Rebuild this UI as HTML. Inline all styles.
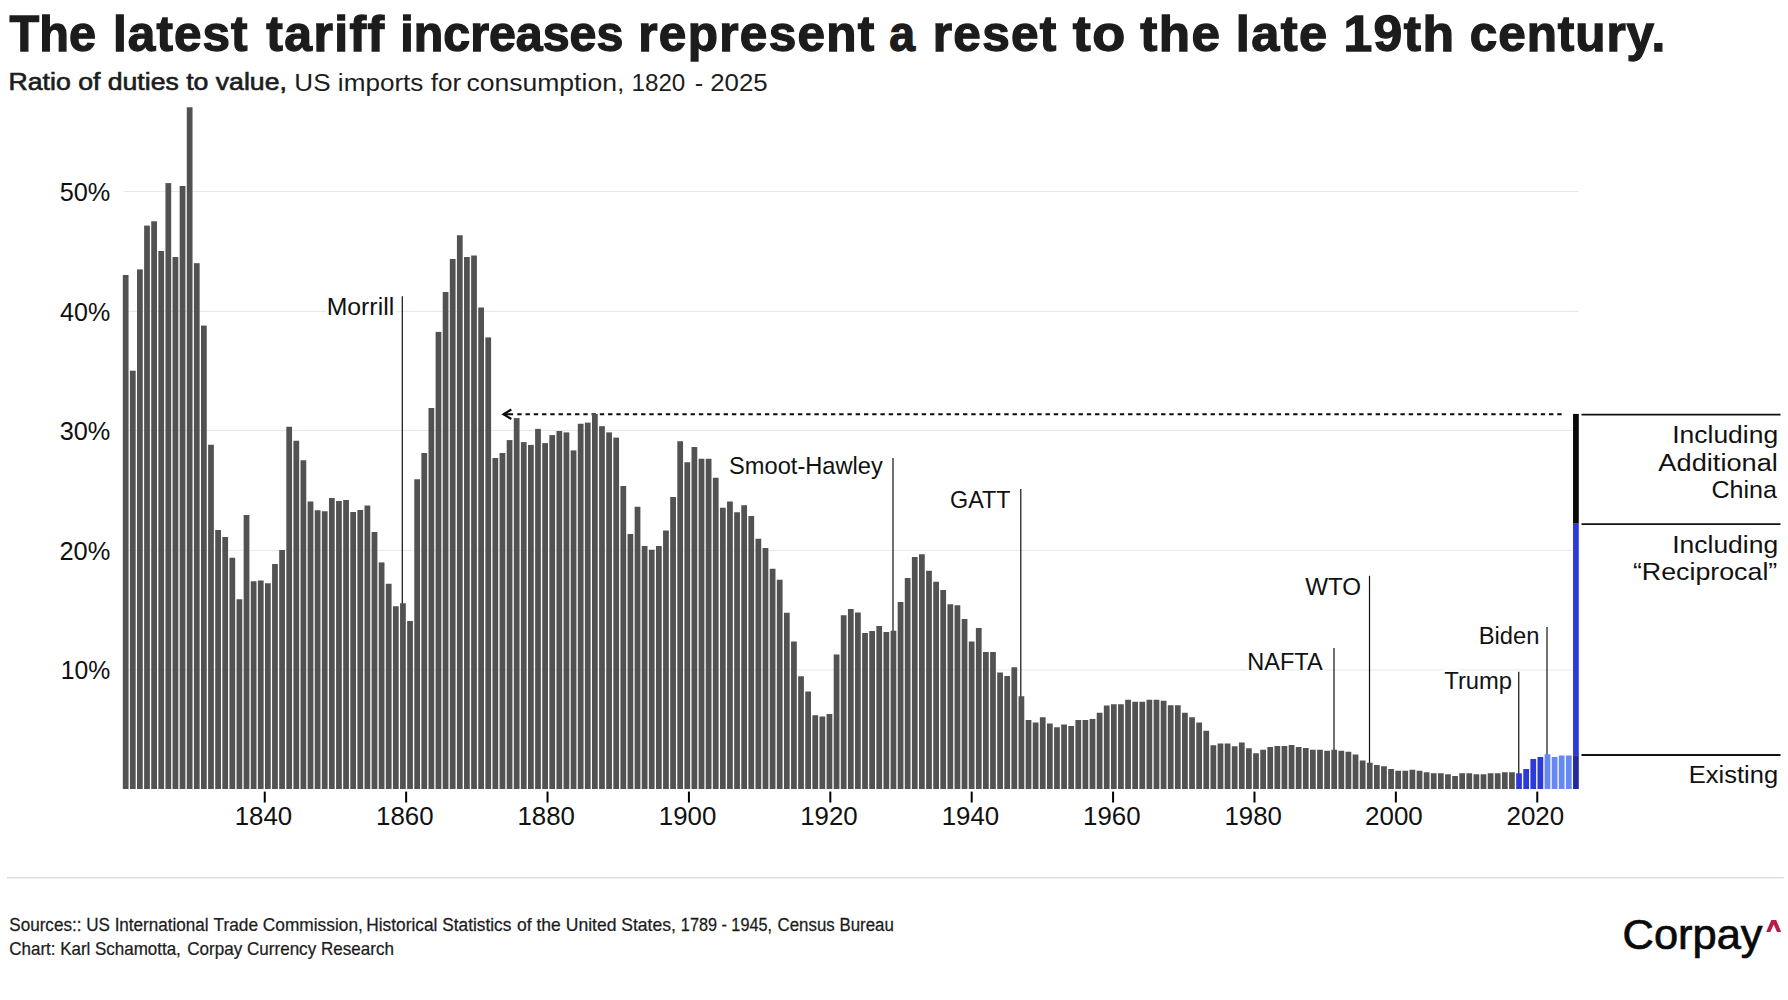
<!DOCTYPE html>
<html lang="en"><head><meta charset="utf-8"><title>The latest tariff increases represent a reset to the late 19th century.</title>
<style>html,body{margin:0;padding:0;background:#fff;}svg{display:block;}</style></head>
<body>
<svg width="1788" height="1000" viewBox="0 0 1788 1000" font-family="'Liberation Sans', sans-serif">
<rect width="1788" height="1000" fill="#ffffff"/>
<line x1="123.5" x2="1578.5" y1="191.55" y2="191.55" stroke="#e4e8ee" stroke-width="1"/>
<line x1="123.5" x2="1578.5" y1="311.4" y2="311.4" stroke="#e4e8ee" stroke-width="1"/>
<line x1="123.5" x2="1578.5" y1="430.5" y2="430.5" stroke="#e4e8ee" stroke-width="1"/>
<line x1="123.5" x2="1578.5" y1="550.35" y2="550.35" stroke="#e4e8ee" stroke-width="1"/>
<line x1="123.5" x2="1578.5" y1="669.95" y2="669.95" stroke="#e4e8ee" stroke-width="1"/>
<line x1="402.3" x2="402.3" y1="296.3" y2="789.0" stroke="#111" stroke-width="1.2"/>
<line x1="893.0" x2="893.0" y1="458.0" y2="789.0" stroke="#111" stroke-width="1.2"/>
<line x1="1020.8" x2="1020.8" y1="489.0" y2="789.0" stroke="#111" stroke-width="1.2"/>
<line x1="1334.0" x2="1334.0" y1="648.0" y2="789.0" stroke="#111" stroke-width="1.2"/>
<line x1="1369.5" x2="1369.5" y1="575.75" y2="789.0" stroke="#111" stroke-width="1.2"/>
<line x1="1518.75" x2="1518.75" y1="671.75" y2="789.0" stroke="#111" stroke-width="1.2"/>
<line x1="1547.0" x2="1547.0" y1="627.0" y2="789.0" stroke="#111" stroke-width="1.2"/>
<line x1="1561.65" x2="517.2" y1="414.25" y2="414.25" stroke="#0a0a0a" stroke-width="2" stroke-dasharray="4.35 3.904"/>
<line x1="503.2" x2="513.1" y1="414.25" y2="414.25" stroke="#0a0a0a" stroke-width="2"/>
<path d="M511.3 409.45 L503.55 414.25 L511.3 419.05" fill="none" stroke="#0a0a0a" stroke-width="2.2" stroke-linejoin="miter"/>
<rect x="122.80" y="275.00" width="5.75" height="514.00" fill="#525252"/>
<rect x="129.91" y="370.70" width="5.75" height="418.30" fill="#525252"/>
<rect x="137.02" y="269.40" width="5.75" height="519.60" fill="#525252"/>
<rect x="144.13" y="225.60" width="5.75" height="563.40" fill="#525252"/>
<rect x="151.24" y="221.30" width="5.75" height="567.70" fill="#525252"/>
<rect x="158.34" y="251.00" width="5.75" height="538.00" fill="#525252"/>
<rect x="165.45" y="183.10" width="5.75" height="605.90" fill="#525252"/>
<rect x="172.56" y="257.00" width="5.75" height="532.00" fill="#525252"/>
<rect x="179.67" y="186.00" width="5.75" height="603.00" fill="#525252"/>
<rect x="186.78" y="107.25" width="5.75" height="681.75" fill="#525252"/>
<rect x="193.89" y="263.20" width="5.75" height="525.80" fill="#525252"/>
<rect x="201.00" y="325.60" width="5.75" height="463.40" fill="#525252"/>
<rect x="208.11" y="444.75" width="5.75" height="344.25" fill="#525252"/>
<rect x="215.22" y="530.00" width="5.75" height="259.00" fill="#525252"/>
<rect x="222.33" y="537.00" width="5.75" height="252.00" fill="#525252"/>
<rect x="229.44" y="557.75" width="5.75" height="231.25" fill="#525252"/>
<rect x="236.54" y="599.25" width="5.75" height="189.75" fill="#525252"/>
<rect x="243.65" y="515.00" width="5.75" height="274.00" fill="#525252"/>
<rect x="250.76" y="581.25" width="5.75" height="207.75" fill="#525252"/>
<rect x="257.87" y="580.50" width="5.75" height="208.50" fill="#525252"/>
<rect x="264.98" y="583.25" width="5.75" height="205.75" fill="#525252"/>
<rect x="272.09" y="564.00" width="5.75" height="225.00" fill="#525252"/>
<rect x="279.20" y="550.00" width="5.75" height="239.00" fill="#525252"/>
<rect x="286.31" y="426.75" width="5.75" height="362.25" fill="#525252"/>
<rect x="293.42" y="440.75" width="5.75" height="348.25" fill="#525252"/>
<rect x="300.52" y="460.25" width="5.75" height="328.75" fill="#525252"/>
<rect x="307.63" y="501.50" width="5.75" height="287.50" fill="#525252"/>
<rect x="314.74" y="510.25" width="5.75" height="278.75" fill="#525252"/>
<rect x="321.85" y="511.25" width="5.75" height="277.75" fill="#525252"/>
<rect x="328.96" y="498.00" width="5.75" height="291.00" fill="#525252"/>
<rect x="336.07" y="501.00" width="5.75" height="288.00" fill="#525252"/>
<rect x="343.18" y="500.00" width="5.75" height="289.00" fill="#525252"/>
<rect x="350.29" y="512.00" width="5.75" height="277.00" fill="#525252"/>
<rect x="357.40" y="510.00" width="5.75" height="279.00" fill="#525252"/>
<rect x="364.51" y="505.50" width="5.75" height="283.50" fill="#525252"/>
<rect x="371.62" y="532.00" width="5.75" height="257.00" fill="#525252"/>
<rect x="378.72" y="562.40" width="5.75" height="226.60" fill="#525252"/>
<rect x="385.83" y="583.75" width="5.75" height="205.25" fill="#525252"/>
<rect x="392.94" y="606.25" width="5.75" height="182.75" fill="#525252"/>
<rect x="400.05" y="603.25" width="5.75" height="185.75" fill="#525252"/>
<rect x="407.16" y="621.00" width="5.75" height="168.00" fill="#525252"/>
<rect x="414.27" y="479.25" width="5.75" height="309.75" fill="#525252"/>
<rect x="421.38" y="453.00" width="5.75" height="336.00" fill="#525252"/>
<rect x="428.49" y="408.00" width="5.75" height="381.00" fill="#525252"/>
<rect x="435.60" y="331.90" width="5.75" height="457.10" fill="#525252"/>
<rect x="442.70" y="292.00" width="5.75" height="497.00" fill="#525252"/>
<rect x="449.81" y="259.00" width="5.75" height="530.00" fill="#525252"/>
<rect x="456.92" y="235.25" width="5.75" height="553.75" fill="#525252"/>
<rect x="464.03" y="257.00" width="5.75" height="532.00" fill="#525252"/>
<rect x="471.14" y="255.50" width="5.75" height="533.50" fill="#525252"/>
<rect x="478.25" y="307.50" width="5.75" height="481.50" fill="#525252"/>
<rect x="485.36" y="337.40" width="5.75" height="451.60" fill="#525252"/>
<rect x="492.47" y="458.00" width="5.75" height="331.00" fill="#525252"/>
<rect x="499.58" y="453.00" width="5.75" height="336.00" fill="#525252"/>
<rect x="506.69" y="440.10" width="5.75" height="348.90" fill="#525252"/>
<rect x="513.79" y="418.10" width="5.75" height="370.90" fill="#525252"/>
<rect x="520.90" y="442.10" width="5.75" height="346.90" fill="#525252"/>
<rect x="528.01" y="444.90" width="5.75" height="344.10" fill="#525252"/>
<rect x="535.12" y="428.90" width="5.75" height="360.10" fill="#525252"/>
<rect x="542.23" y="443.10" width="5.75" height="345.90" fill="#525252"/>
<rect x="549.34" y="435.10" width="5.75" height="353.90" fill="#525252"/>
<rect x="556.45" y="431.00" width="5.75" height="358.00" fill="#525252"/>
<rect x="563.56" y="432.40" width="5.75" height="356.60" fill="#525252"/>
<rect x="570.67" y="450.40" width="5.75" height="338.60" fill="#525252"/>
<rect x="577.78" y="423.75" width="5.75" height="365.25" fill="#525252"/>
<rect x="584.88" y="422.65" width="5.75" height="366.35" fill="#525252"/>
<rect x="591.99" y="413.90" width="5.75" height="375.10" fill="#525252"/>
<rect x="599.10" y="426.20" width="5.75" height="362.80" fill="#525252"/>
<rect x="606.21" y="432.40" width="5.75" height="356.60" fill="#525252"/>
<rect x="613.32" y="437.60" width="5.75" height="351.40" fill="#525252"/>
<rect x="620.43" y="486.00" width="5.75" height="303.00" fill="#525252"/>
<rect x="627.54" y="534.00" width="5.75" height="255.00" fill="#525252"/>
<rect x="634.65" y="506.75" width="5.75" height="282.25" fill="#525252"/>
<rect x="641.76" y="546.00" width="5.75" height="243.00" fill="#525252"/>
<rect x="648.87" y="549.75" width="5.75" height="239.25" fill="#525252"/>
<rect x="655.97" y="546.00" width="5.75" height="243.00" fill="#525252"/>
<rect x="663.08" y="530.50" width="5.75" height="258.50" fill="#525252"/>
<rect x="670.19" y="497.00" width="5.75" height="292.00" fill="#525252"/>
<rect x="677.30" y="441.25" width="5.75" height="347.75" fill="#525252"/>
<rect x="684.41" y="462.25" width="5.75" height="326.75" fill="#525252"/>
<rect x="691.52" y="447.00" width="5.75" height="342.00" fill="#525252"/>
<rect x="698.63" y="458.75" width="5.75" height="330.25" fill="#525252"/>
<rect x="705.74" y="458.75" width="5.75" height="330.25" fill="#525252"/>
<rect x="712.85" y="477.75" width="5.75" height="311.25" fill="#525252"/>
<rect x="719.96" y="507.75" width="5.75" height="281.25" fill="#525252"/>
<rect x="727.06" y="501.50" width="5.75" height="287.50" fill="#525252"/>
<rect x="734.17" y="512.25" width="5.75" height="276.75" fill="#525252"/>
<rect x="741.28" y="505.25" width="5.75" height="283.75" fill="#525252"/>
<rect x="748.39" y="516.00" width="5.75" height="273.00" fill="#525252"/>
<rect x="755.50" y="538.75" width="5.75" height="250.25" fill="#525252"/>
<rect x="762.61" y="548.00" width="5.75" height="241.00" fill="#525252"/>
<rect x="769.72" y="568.75" width="5.75" height="220.25" fill="#525252"/>
<rect x="776.83" y="579.75" width="5.75" height="209.25" fill="#525252"/>
<rect x="783.94" y="612.75" width="5.75" height="176.25" fill="#525252"/>
<rect x="791.05" y="641.50" width="5.75" height="147.50" fill="#525252"/>
<rect x="798.15" y="676.25" width="5.75" height="112.75" fill="#525252"/>
<rect x="805.26" y="691.50" width="5.75" height="97.50" fill="#525252"/>
<rect x="812.37" y="715.25" width="5.75" height="73.75" fill="#525252"/>
<rect x="819.48" y="716.50" width="5.75" height="72.50" fill="#525252"/>
<rect x="826.59" y="714.00" width="5.75" height="75.00" fill="#525252"/>
<rect x="833.70" y="654.50" width="5.75" height="134.50" fill="#525252"/>
<rect x="840.81" y="615.25" width="5.75" height="173.75" fill="#525252"/>
<rect x="847.92" y="609.00" width="5.75" height="180.00" fill="#525252"/>
<rect x="855.03" y="612.50" width="5.75" height="176.50" fill="#525252"/>
<rect x="862.14" y="633.00" width="5.75" height="156.00" fill="#525252"/>
<rect x="869.25" y="631.00" width="5.75" height="158.00" fill="#525252"/>
<rect x="876.35" y="626.00" width="5.75" height="163.00" fill="#525252"/>
<rect x="883.46" y="632.00" width="5.75" height="157.00" fill="#525252"/>
<rect x="890.57" y="630.75" width="5.75" height="158.25" fill="#525252"/>
<rect x="897.68" y="602.00" width="5.75" height="187.00" fill="#525252"/>
<rect x="904.79" y="578.00" width="5.75" height="211.00" fill="#525252"/>
<rect x="911.90" y="557.00" width="5.75" height="232.00" fill="#525252"/>
<rect x="919.01" y="554.25" width="5.75" height="234.75" fill="#525252"/>
<rect x="926.12" y="570.75" width="5.75" height="218.25" fill="#525252"/>
<rect x="933.23" y="581.75" width="5.75" height="207.25" fill="#525252"/>
<rect x="940.33" y="590.00" width="5.75" height="199.00" fill="#525252"/>
<rect x="947.44" y="604.25" width="5.75" height="184.75" fill="#525252"/>
<rect x="954.55" y="605.25" width="5.75" height="183.75" fill="#525252"/>
<rect x="961.66" y="619.00" width="5.75" height="170.00" fill="#525252"/>
<rect x="968.77" y="641.50" width="5.75" height="147.50" fill="#525252"/>
<rect x="975.88" y="628.00" width="5.75" height="161.00" fill="#525252"/>
<rect x="982.99" y="652.00" width="5.75" height="137.00" fill="#525252"/>
<rect x="990.10" y="652.00" width="5.75" height="137.00" fill="#525252"/>
<rect x="997.21" y="672.50" width="5.75" height="116.50" fill="#525252"/>
<rect x="1004.32" y="676.00" width="5.75" height="113.00" fill="#525252"/>
<rect x="1011.42" y="667.25" width="5.75" height="121.75" fill="#525252"/>
<rect x="1018.53" y="696.25" width="5.75" height="92.75" fill="#525252"/>
<rect x="1025.64" y="720.00" width="5.75" height="69.00" fill="#525252"/>
<rect x="1032.75" y="722.50" width="5.75" height="66.50" fill="#525252"/>
<rect x="1039.86" y="717.25" width="5.75" height="71.75" fill="#525252"/>
<rect x="1046.97" y="723.50" width="5.75" height="65.50" fill="#525252"/>
<rect x="1054.08" y="727.25" width="5.75" height="61.75" fill="#525252"/>
<rect x="1061.19" y="724.50" width="5.75" height="64.50" fill="#525252"/>
<rect x="1068.30" y="726.00" width="5.75" height="63.00" fill="#525252"/>
<rect x="1075.41" y="720.00" width="5.75" height="69.00" fill="#525252"/>
<rect x="1082.52" y="720.00" width="5.75" height="69.00" fill="#525252"/>
<rect x="1089.62" y="719.00" width="5.75" height="70.00" fill="#525252"/>
<rect x="1096.73" y="712.75" width="5.75" height="76.25" fill="#525252"/>
<rect x="1103.84" y="705.50" width="5.75" height="83.50" fill="#525252"/>
<rect x="1110.95" y="704.25" width="5.75" height="84.75" fill="#525252"/>
<rect x="1118.06" y="704.25" width="5.75" height="84.75" fill="#525252"/>
<rect x="1125.17" y="699.75" width="5.75" height="89.25" fill="#525252"/>
<rect x="1132.28" y="701.75" width="5.75" height="87.25" fill="#525252"/>
<rect x="1139.39" y="701.75" width="5.75" height="87.25" fill="#525252"/>
<rect x="1146.50" y="699.75" width="5.75" height="89.25" fill="#525252"/>
<rect x="1153.61" y="699.75" width="5.75" height="89.25" fill="#525252"/>
<rect x="1160.71" y="700.75" width="5.75" height="88.25" fill="#525252"/>
<rect x="1167.82" y="705.25" width="5.75" height="83.75" fill="#525252"/>
<rect x="1174.93" y="705.25" width="5.75" height="83.75" fill="#525252"/>
<rect x="1182.04" y="712.75" width="5.75" height="76.25" fill="#525252"/>
<rect x="1189.15" y="717.25" width="5.75" height="71.75" fill="#525252"/>
<rect x="1196.26" y="722.50" width="5.75" height="66.50" fill="#525252"/>
<rect x="1203.37" y="730.75" width="5.75" height="58.25" fill="#525252"/>
<rect x="1210.48" y="745.25" width="5.75" height="43.75" fill="#525252"/>
<rect x="1217.59" y="743.50" width="5.75" height="45.50" fill="#525252"/>
<rect x="1224.69" y="743.50" width="5.75" height="45.50" fill="#525252"/>
<rect x="1231.80" y="746.25" width="5.75" height="42.75" fill="#525252"/>
<rect x="1238.91" y="742.50" width="5.75" height="46.50" fill="#525252"/>
<rect x="1246.02" y="748.25" width="5.75" height="40.75" fill="#525252"/>
<rect x="1253.13" y="753.25" width="5.75" height="35.75" fill="#525252"/>
<rect x="1260.24" y="749.75" width="5.75" height="39.25" fill="#525252"/>
<rect x="1267.35" y="747.00" width="5.75" height="42.00" fill="#525252"/>
<rect x="1274.46" y="746.00" width="5.75" height="43.00" fill="#525252"/>
<rect x="1281.57" y="746.00" width="5.75" height="43.00" fill="#525252"/>
<rect x="1288.68" y="745.00" width="5.75" height="44.00" fill="#525252"/>
<rect x="1295.78" y="747.00" width="5.75" height="42.00" fill="#525252"/>
<rect x="1302.89" y="748.00" width="5.75" height="41.00" fill="#525252"/>
<rect x="1310.00" y="749.75" width="5.75" height="39.25" fill="#525252"/>
<rect x="1317.11" y="749.75" width="5.75" height="39.25" fill="#525252"/>
<rect x="1324.22" y="750.75" width="5.75" height="38.25" fill="#525252"/>
<rect x="1331.33" y="749.75" width="5.75" height="39.25" fill="#525252"/>
<rect x="1338.44" y="750.75" width="5.75" height="38.25" fill="#525252"/>
<rect x="1345.55" y="751.75" width="5.75" height="37.25" fill="#525252"/>
<rect x="1352.66" y="754.50" width="5.75" height="34.50" fill="#525252"/>
<rect x="1359.77" y="760.50" width="5.75" height="28.50" fill="#525252"/>
<rect x="1366.88" y="762.75" width="5.75" height="26.25" fill="#525252"/>
<rect x="1373.98" y="765.00" width="5.75" height="24.00" fill="#525252"/>
<rect x="1381.09" y="766.25" width="5.75" height="22.75" fill="#525252"/>
<rect x="1388.20" y="769.00" width="5.75" height="20.00" fill="#525252"/>
<rect x="1395.31" y="770.75" width="5.75" height="18.25" fill="#525252"/>
<rect x="1402.42" y="770.75" width="5.75" height="18.25" fill="#525252"/>
<rect x="1409.53" y="769.75" width="5.75" height="19.25" fill="#525252"/>
<rect x="1416.64" y="770.75" width="5.75" height="18.25" fill="#525252"/>
<rect x="1423.75" y="772.25" width="5.75" height="16.75" fill="#525252"/>
<rect x="1430.86" y="773.25" width="5.75" height="15.75" fill="#525252"/>
<rect x="1437.96" y="773.25" width="5.75" height="15.75" fill="#525252"/>
<rect x="1445.07" y="774.25" width="5.75" height="14.75" fill="#525252"/>
<rect x="1452.18" y="776.00" width="5.75" height="13.00" fill="#525252"/>
<rect x="1459.29" y="773.25" width="5.75" height="15.75" fill="#525252"/>
<rect x="1466.40" y="773.25" width="5.75" height="15.75" fill="#525252"/>
<rect x="1473.51" y="774.25" width="5.75" height="14.75" fill="#525252"/>
<rect x="1480.62" y="774.25" width="5.75" height="14.75" fill="#525252"/>
<rect x="1487.73" y="773.25" width="5.75" height="15.75" fill="#525252"/>
<rect x="1494.84" y="773.25" width="5.75" height="15.75" fill="#525252"/>
<rect x="1501.95" y="772.25" width="5.75" height="16.75" fill="#525252"/>
<rect x="1509.06" y="772.25" width="5.75" height="16.75" fill="#525252"/>
<rect x="1516.16" y="773.30" width="5.75" height="15.70" fill="#2c3bd8"/>
<rect x="1523.27" y="769.00" width="5.75" height="20.00" fill="#2c3bd8"/>
<rect x="1530.38" y="759.00" width="5.75" height="30.00" fill="#2c3bd8"/>
<rect x="1537.49" y="757.00" width="5.75" height="32.00" fill="#2c3bd8"/>
<rect x="1544.60" y="754.30" width="5.75" height="34.70" fill="#6688f5"/>
<rect x="1551.71" y="757.00" width="5.75" height="32.00" fill="#6688f5"/>
<rect x="1558.82" y="755.50" width="5.75" height="33.50" fill="#6688f5"/>
<rect x="1565.93" y="755.50" width="5.75" height="33.50" fill="#6688f5"/>
<rect x="1573.04" y="755.2" width="5.75" height="33.80" fill="#23299b"/>
<rect x="1573.04" y="523.6" width="5.75" height="231.60" fill="#2c3bd8"/>
<rect x="1573.04" y="413.9" width="5.75" height="109.70" fill="#0a0a0a"/>
<line x1="1581.5" x2="1780.5" y1="414.65" y2="414.65" stroke="#111" stroke-width="1.8"/>
<line x1="1581.5" x2="1780.5" y1="524.2" y2="524.2" stroke="#111" stroke-width="1.8"/>
<line x1="1581.5" x2="1780.5" y1="755.0" y2="755.0" stroke="#111" stroke-width="1.8"/>
<line x1="264.75" x2="264.75" y1="791.6" y2="802.5" stroke="#000" stroke-width="2"/>
<line x1="406.14" x2="406.14" y1="791.6" y2="802.5" stroke="#000" stroke-width="2"/>
<line x1="547.53" x2="547.53" y1="791.6" y2="802.5" stroke="#000" stroke-width="2"/>
<line x1="688.92" x2="688.92" y1="791.6" y2="802.5" stroke="#000" stroke-width="2"/>
<line x1="830.31" x2="830.31" y1="791.6" y2="802.5" stroke="#000" stroke-width="2"/>
<line x1="971.70" x2="971.70" y1="791.6" y2="802.5" stroke="#000" stroke-width="2"/>
<line x1="1113.09" x2="1113.09" y1="791.6" y2="802.5" stroke="#000" stroke-width="2"/>
<line x1="1254.48" x2="1254.48" y1="791.6" y2="802.5" stroke="#000" stroke-width="2"/>
<line x1="1395.87" x2="1395.87" y1="791.6" y2="802.5" stroke="#000" stroke-width="2"/>
<line x1="1537.26" x2="1537.26" y1="791.6" y2="802.5" stroke="#000" stroke-width="2"/>
<line x1="7" x2="1783.8" y1="877.7" y2="877.7" stroke="#e0e0e0" stroke-width="1.5"/>
<text transform="translate(9.50 50.6) scale(0.9828 1)" font-size="49.5" font-weight="700" fill="#1c1c1c" stroke="#1c1c1c" stroke-width="1.3" stroke-linejoin="miter" stroke-miterlimit="3">The</text>
<text transform="translate(113.00 50.6) scale(1.0000 1)" font-size="49.5" font-weight="700" fill="#1c1c1c" letter-spacing="1.050" stroke="#1c1c1c" stroke-width="1.3" stroke-linejoin="miter" stroke-miterlimit="3">latest</text>
<text transform="translate(266.25 50.6) scale(1.0085 1)" font-size="49.5" font-weight="700" fill="#1c1c1c" letter-spacing="1.400" stroke="#1c1c1c" stroke-width="1.3" stroke-linejoin="miter" stroke-miterlimit="3">tariff</text>
<text transform="translate(400.31 50.6) scale(0.9766 1)" font-size="49.5" font-weight="700" fill="#1c1c1c" stroke="#1c1c1c" stroke-width="1.3" stroke-linejoin="miter" stroke-miterlimit="3">increases</text>
<text transform="translate(638.25 50.6) scale(1.0000 1)" font-size="49.5" font-weight="700" fill="#1c1c1c" letter-spacing="1.312" stroke="#1c1c1c" stroke-width="1.3" stroke-linejoin="miter" stroke-miterlimit="3">represent</text>
<text transform="translate(889.30 50.6) scale(0.9369 1)" font-size="49.5" font-weight="700" fill="#1c1c1c" stroke="#1c1c1c" stroke-width="1.3" stroke-linejoin="miter" stroke-miterlimit="3">a</text>
<text transform="translate(932.75 50.6) scale(1.0000 1)" font-size="49.5" font-weight="700" fill="#1c1c1c" letter-spacing="1.312" stroke="#1c1c1c" stroke-width="1.3" stroke-linejoin="miter" stroke-miterlimit="3">reset</text>
<text transform="translate(1072.75 50.6) scale(1.0928 1)" font-size="49.5" font-weight="700" fill="#1c1c1c" letter-spacing="1.400" stroke="#1c1c1c" stroke-width="1.3" stroke-linejoin="miter" stroke-miterlimit="3">to</text>
<text transform="translate(1140.25 50.6) scale(1.0355 1)" font-size="49.5" font-weight="700" fill="#1c1c1c" letter-spacing="1.400" stroke="#1c1c1c" stroke-width="1.3" stroke-linejoin="miter" stroke-miterlimit="3">the</text>
<text transform="translate(1235.69 50.6) scale(1.0210 1)" font-size="49.5" font-weight="700" fill="#1c1c1c" letter-spacing="1.400" stroke="#1c1c1c" stroke-width="1.3" stroke-linejoin="miter" stroke-miterlimit="3">late</text>
<text transform="translate(1343.39 50.6) scale(1.0450 1)" font-size="49.5" font-weight="700" fill="#1c1c1c" letter-spacing="1.400" stroke="#1c1c1c" stroke-width="1.3" stroke-linejoin="miter" stroke-miterlimit="3">19th</text>
<text transform="translate(1469.75 50.6) scale(1.0000 1)" font-size="49.5" font-weight="700" fill="#1c1c1c" letter-spacing="0.929" stroke="#1c1c1c" stroke-width="1.3" stroke-linejoin="miter" stroke-miterlimit="3">century.</text>
<text transform="translate(8.56 90.475) scale(1.1102 1)" font-size="24.0" font-weight="400" fill="#1c1c1c" stroke="#1c1c1c" stroke-width="0.65" stroke-linejoin="miter" stroke-miterlimit="3">Ratio of duties to value,</text>
<text transform="translate(294.36 90.8) scale(1.0787 1)" font-size="24.2" font-weight="400" fill="#1c1c1c">US imports for</text>
<text transform="translate(466.40 90.8) scale(1.0977 1)" font-size="24.2" font-weight="400" fill="#1c1c1c">consumption,</text>
<text transform="translate(631.50 90.8) scale(1.0000 1)" font-size="24.2" font-weight="400" fill="#1c1c1c">1820</text>
<text transform="translate(694.71 90.8) scale(1.0417 1)" font-size="24.2" font-weight="400" fill="#1c1c1c">-</text>
<text transform="translate(710.17 90.8) scale(1.0680 1)" font-size="24.2" font-weight="400" fill="#1c1c1c">2025</text>
<text transform="translate(59.63 200.8) scale(0.9663 1)" font-size="26.2" font-weight="400" fill="#111111">50%</text>
<text transform="translate(60.12 320.65) scale(0.9569 1)" font-size="26.2" font-weight="400" fill="#111111">40%</text>
<text transform="translate(59.63 439.75) scale(0.9663 1)" font-size="26.2" font-weight="400" fill="#111111">30%</text>
<text transform="translate(59.39 559.6) scale(0.9711 1)" font-size="26.2" font-weight="400" fill="#111111">20%</text>
<text transform="translate(60.71 679.2) scale(0.9455 1)" font-size="26.2" font-weight="400" fill="#111111">10%</text>
<text transform="translate(234.68 825.0) scale(0.9873 1)" font-size="26.2" font-weight="400" fill="#111111">1840</text>
<text transform="translate(376.07 825.0) scale(0.9873 1)" font-size="26.2" font-weight="400" fill="#111111">1860</text>
<text transform="translate(517.46 825.0) scale(0.9873 1)" font-size="26.2" font-weight="400" fill="#111111">1880</text>
<text transform="translate(658.85 825.0) scale(0.9873 1)" font-size="26.2" font-weight="400" fill="#111111">1900</text>
<text transform="translate(800.24 825.0) scale(0.9873 1)" font-size="26.2" font-weight="400" fill="#111111">1920</text>
<text transform="translate(941.63 825.0) scale(0.9873 1)" font-size="26.2" font-weight="400" fill="#111111">1940</text>
<text transform="translate(1083.02 825.0) scale(0.9873 1)" font-size="26.2" font-weight="400" fill="#111111">1960</text>
<text transform="translate(1224.41 825.0) scale(0.9873 1)" font-size="26.2" font-weight="400" fill="#111111">1980</text>
<text transform="translate(1365.08 825.0) scale(0.9902 1)" font-size="26.2" font-weight="400" fill="#111111">2000</text>
<text transform="translate(1506.47 825.0) scale(0.9902 1)" font-size="26.2" font-weight="400" fill="#111111">2020</text>
<text transform="translate(326.67 315.0) scale(1.0167 1)" font-size="24.4" font-weight="400" fill="#111111" stroke="#fff" stroke-width="5" stroke-linejoin="round" paint-order="stroke">Morrill</text>
<text transform="translate(729.09 473.7) scale(0.9692 1)" font-size="24.4" font-weight="400" fill="#111111" stroke="#fff" stroke-width="5" stroke-linejoin="round" paint-order="stroke">Smoot-Hawley</text>
<text transform="translate(950.06 508.0) scale(0.9553 1)" font-size="24.4" font-weight="400" fill="#111111" stroke="#fff" stroke-width="5" stroke-linejoin="round" paint-order="stroke">GATT</text>
<text transform="translate(1247.27 669.6) scale(0.9645 1)" font-size="24.4" font-weight="400" fill="#111111" stroke="#fff" stroke-width="5" stroke-linejoin="round" paint-order="stroke">NAFTA</text>
<text transform="translate(1305.25 595.0) scale(0.9909 1)" font-size="24.4" font-weight="400" fill="#111111" stroke="#fff" stroke-width="5" stroke-linejoin="round" paint-order="stroke">WTO</text>
<text transform="translate(1444.26 689.1) scale(0.9743 1)" font-size="24.4" font-weight="400" fill="#111111" stroke="#fff" stroke-width="5" stroke-linejoin="round" paint-order="stroke">Trump</text>
<text transform="translate(1478.65 644.3) scale(0.9736 1)" font-size="24.4" font-weight="400" fill="#111111" stroke="#fff" stroke-width="5" stroke-linejoin="round" paint-order="stroke">Biden</text>
<text transform="translate(1688.71 782.5) scale(1.0465 1)" font-size="24.4" font-weight="400" fill="#111111">Existing</text>
<text transform="translate(1672.26 442.5) scale(1.0843 1)" font-size="24.4" font-weight="400" fill="#111111">Including</text>
<text transform="translate(1658.35 470.5) scale(1.1161 1)" font-size="24.4" font-weight="400" fill="#111111">Additional</text>
<text transform="translate(1711.46 498.25) scale(1.0280 1)" font-size="24.4" font-weight="400" fill="#111111">China</text>
<text transform="translate(1672.26 552.5) scale(1.0843 1)" font-size="24.4" font-weight="400" fill="#111111">Including</text>
<text transform="translate(1632.90 580.0) scale(1.0985 1)" font-size="24.4" font-weight="400" fill="#111111">“Reciprocal”</text>
<text transform="translate(9.28 931.325) scale(0.9599 1)" font-size="17.8" font-weight="400" fill="#1c1c1c" stroke="#1c1c1c" stroke-width="0.25" stroke-linejoin="miter" stroke-miterlimit="3">Sources:: US International</text>
<text transform="translate(213.51 931.325) scale(0.9720 1)" font-size="17.8" font-weight="400" fill="#1c1c1c" stroke="#1c1c1c" stroke-width="0.25" stroke-linejoin="miter" stroke-miterlimit="3">Trade Commission,</text>
<text transform="translate(366.29 931.325) scale(0.9712 1)" font-size="17.8" font-weight="400" fill="#1c1c1c" stroke="#1c1c1c" stroke-width="0.25" stroke-linejoin="miter" stroke-miterlimit="3">Historical Statistics</text>
<text transform="translate(517.01 931.325) scale(0.9858 1)" font-size="17.8" font-weight="400" fill="#1c1c1c" stroke="#1c1c1c" stroke-width="0.25" stroke-linejoin="miter" stroke-miterlimit="3">of the United States,</text>
<text transform="translate(680.86 931.325) scale(0.9126 1)" font-size="17.8" font-weight="400" fill="#1c1c1c" stroke="#1c1c1c" stroke-width="0.25" stroke-linejoin="miter" stroke-miterlimit="3">1789 - 1945,</text>
<text transform="translate(777.54 931.325) scale(0.9482 1)" font-size="17.8" font-weight="400" fill="#1c1c1c" stroke="#1c1c1c" stroke-width="0.25" stroke-linejoin="miter" stroke-miterlimit="3">Census Bureau</text>
<text transform="translate(9.28 955.225) scale(0.9536 1)" font-size="17.8" font-weight="400" fill="#1c1c1c" stroke="#1c1c1c" stroke-width="0.25" stroke-linejoin="miter" stroke-miterlimit="3">Chart: Karl Schamotta,</text>
<text transform="translate(187.28 955.225) scale(0.9591 1)" font-size="17.8" font-weight="400" fill="#1c1c1c" stroke="#1c1c1c" stroke-width="0.25" stroke-linejoin="miter" stroke-miterlimit="3">Corpay Currency Research</text>
<text transform="translate(1622.57 948.9499999999999) scale(1.0441 1)" font-size="41.6" font-weight="400" fill="#0a0a0a" stroke="#0a0a0a" stroke-width="0.7" stroke-linejoin="miter" stroke-miterlimit="3">Corpay</text>
<path d="M1766.2 931.9 L1771.3 920 L1776.2 920 L1781.2 931.9 L1777 931.9 L1773.7 924.6 L1770.4 931.9 Z" fill="#b81e45"/>
</svg>
</body></html>
